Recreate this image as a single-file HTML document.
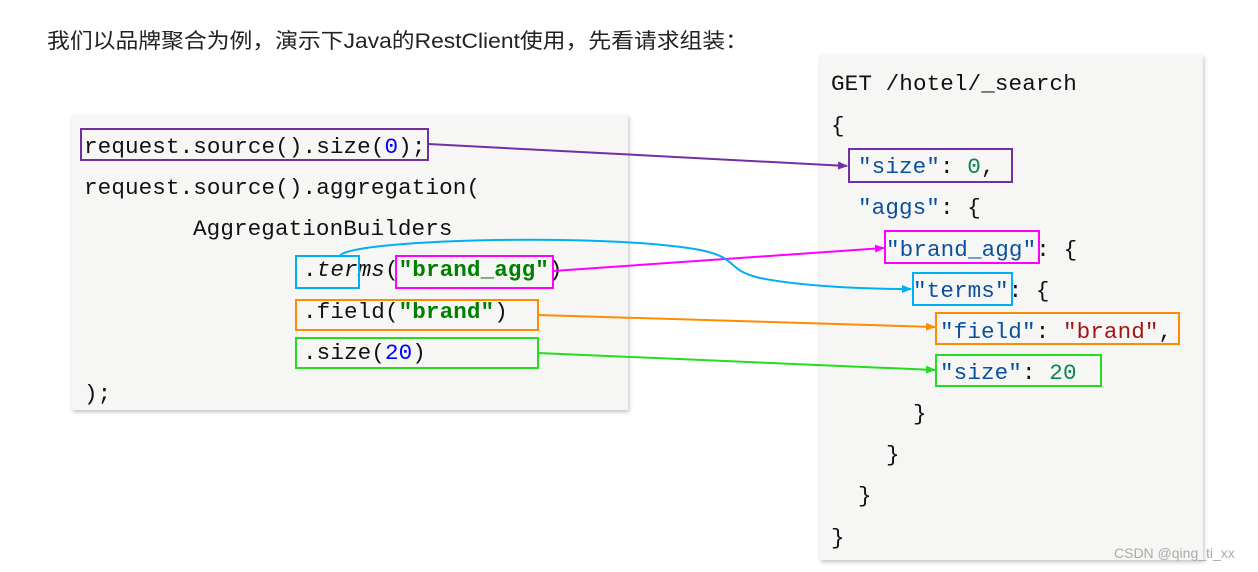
<!DOCTYPE html>
<html><head><meta charset="utf-8"><style>
html,body{margin:0;padding:0;background:#fff;width:1258px;height:572px;overflow:hidden}
svg{display:block}
.m{font-family:"Liberation Mono",monospace;font-size:22.6px;letter-spacing:0.1px}
</style></head><body>
<svg width="1258" height="572" xmlns="http://www.w3.org/2000/svg">
<defs>
<filter id="sh" x="-5%" y="-5%" width="110%" height="110%"><feDropShadow dx="1" dy="2" stdDeviation="2" flood-color="#000" flood-opacity="0.25"/></filter>
<marker id="ap" markerWidth="10" markerHeight="8" refX="9" refY="4" orient="auto" markerUnits="userSpaceOnUse"><path d="M0,0L10,4L0,8z" fill="#7030a0"/></marker>
<marker id="ak" markerWidth="10" markerHeight="8" refX="9" refY="4" orient="auto" markerUnits="userSpaceOnUse"><path d="M0,0L10,4L0,8z" fill="#ff00ff"/></marker>
<marker id="ab" markerWidth="10" markerHeight="8" refX="9" refY="4" orient="auto" markerUnits="userSpaceOnUse"><path d="M0,0L10,4L0,8z" fill="#00b0f0"/></marker>
<marker id="ao" markerWidth="10" markerHeight="8" refX="9" refY="4" orient="auto" markerUnits="userSpaceOnUse"><path d="M0,0L10,4L0,8z" fill="#ff8c00"/></marker>
<marker id="ag" markerWidth="10" markerHeight="8" refX="9" refY="4" orient="auto" markerUnits="userSpaceOnUse"><path d="M0,0L10,4L0,8z" fill="#22dd22"/></marker>
</defs>
<text x="47" y="48" font-family="'Liberation Sans','Noto Sans CJK SC',sans-serif" font-size="21" fill="#222" textLength="701" lengthAdjust="spacingAndGlyphs">我们以品牌聚合为例，演示下Java的RestClient使用，先看请求组装：</text>
<rect x="72" y="115" width="556" height="295" fill="#f6f7f4" filter="url(#sh)"/>
<rect x="820" y="55" width="383" height="505" fill="#f6f7f4" filter="url(#sh)"/>
<g class="m" fill="#111">
<text x="84" y="153">request.source().size(<tspan fill="#0000ff">0</tspan>);</text>
<text x="84" y="194">request.source().aggregation(</text>
<text x="193" y="235">AggregationBuilders</text>
<text x="303" y="276">.<tspan font-style="italic">terms</tspan>(<tspan fill="#008000" font-weight="bold">"brand_agg"</tspan>)</text>
<text x="303" y="318">.field(<tspan fill="#008000" font-weight="bold">"brand"</tspan>)</text>
<text x="303" y="359">.size(<tspan fill="#0000ff">20</tspan>)</text>
<text x="84" y="400">);</text>
<text x="831" y="90">GET /hotel/_search</text>
<text x="831" y="132">{</text>
<text x="858" y="173"><tspan fill="#0b4f9e">"size"</tspan>: <tspan fill="#098658">0</tspan>,</text>
<text x="858" y="214"><tspan fill="#0b4f9e">"aggs"</tspan>: {</text>
<text x="886" y="256"><tspan fill="#0b4f9e">"brand_agg"</tspan>: {</text>
<text x="913" y="297"><tspan fill="#0b4f9e">"terms"</tspan>: {</text>
<text x="940" y="338"><tspan fill="#0b4f9e">"field"</tspan>: <tspan fill="#a31515">"brand"</tspan>,</text>
<text x="940" y="379"><tspan fill="#0b4f9e">"size"</tspan>: <tspan fill="#098658">20</tspan></text>
<text x="913" y="420">}</text>
<text x="886" y="461">}</text>
<text x="858" y="502">}</text>
<text x="831" y="544">}</text>
</g>
<g fill="none" stroke-width="2">
<rect x="81" y="129" width="347" height="31" stroke="#7030a0"/>
<rect x="849" y="149" width="163" height="33" stroke="#7030a0"/>
<rect x="296" y="256" width="63" height="32" stroke="#00b0f0"/>
<rect x="913" y="273" width="99" height="32" stroke="#00b0f0"/>
<rect x="396" y="256" width="157" height="32" stroke="#ff00ff"/>
<rect x="885" y="231" width="154" height="32" stroke="#ff00ff"/>
<rect x="296" y="300" width="242" height="30" stroke="#ff8c00"/>
<rect x="936" y="313" width="243" height="31" stroke="#ff8c00"/>
<rect x="296" y="338" width="242" height="30" stroke="#22dd22"/>
<rect x="936" y="355" width="165" height="31" stroke="#22dd22"/>
<path d="M428,144 L847,166" stroke="#7030a0" marker-end="url(#ap)"/>
<path d="M553,271 L884,248" stroke="#ff00ff" marker-end="url(#ak)"/>
<path d="M340,256 C345,240 600,232 700,250 C740,258 725,270 760,278 C800,286 860,289 911,289" stroke="#00b0f0" marker-end="url(#ab)"/>
<path d="M538,315 L935,327" stroke="#ff8c00" marker-end="url(#ao)"/>
<path d="M538,353 L935,370" stroke="#22dd22" marker-end="url(#ag)"/>
</g>
<text x="1114" y="558" font-family="'Liberation Sans',sans-serif" font-size="14" fill="#aaa">CSDN @qing_ti_xx</text>
</svg>
</body></html>
